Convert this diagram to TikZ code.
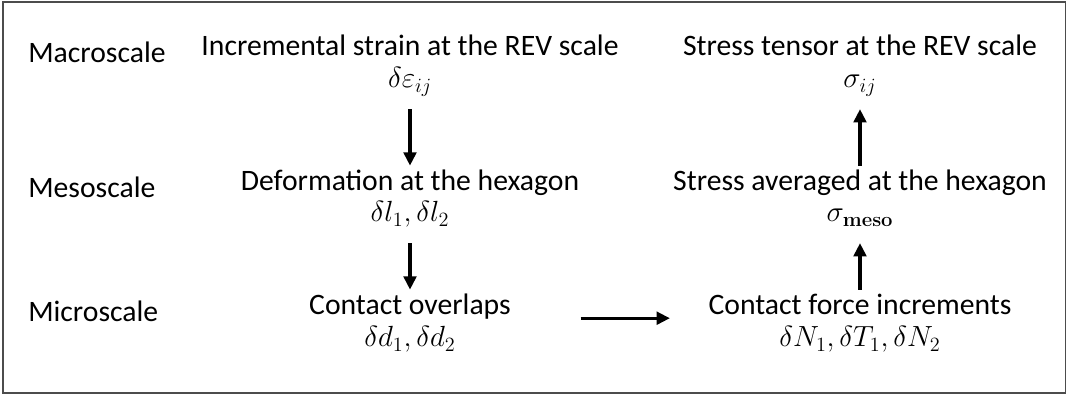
\documentclass[tikz,border=0pt]{standalone}
\usepackage[no-math]{fontspec}
\setmainfont{Carlito}
\usepackage{amsmath}
\usetikzlibrary{arrows.meta}

\begin{document}
\begin{tikzpicture}[x=0.025cm, y=-0.025cm,
  level/.style={anchor=west, inner sep=0pt, font=\fontsize{21.1}{25}\selectfont},
  txt/.style={inner sep=0pt, text height=0.7em, text depth=0.25em, font=\fontsize{21.1}{25}\selectfont},
  var/.style={inner sep=0pt, text height=0.7em, text depth=0.3em, font=\fontsize{21.5}{26}\selectfont},
  arr/.style={-{Triangle[length=9.5pt, width=9pt]}, line width=2.3pt, shorten <=0.42cm, shorten >=0.36cm},
  frame/.style={draw=black!70, line width=1.2pt}
]
  \useasboundingbox (0,0) rectangle (1068,396);
  \draw[frame] (3,2) rectangle (1065.5,393);

  % scale labels
  \node[level] (macro) at (28,52) {Macroscale};
  \node[level] (meso) at (28,187) {Mesoscale};
  \node[level] (micro) at (28,311) {Microscale};

  % kinematic side
  \node[txt] (strain) at (410,52) {Incremental strain at the REV scale};
  \node[var] (strainvar) at (410,85) {$\delta\varepsilon_{ij}$};
  \node[txt] (deform) at (410,187) {Deformation at the hexagon};
  \node[var] (deformvar) at (410,219) {$\delta l_1, \delta l_2$};
  \node[txt] (overlaps) at (410,311) {Contact overlaps};
  \node[var] (overlapsvar) at (410,344) {$\delta d_1, \delta d_2$};

  % static side
  \node[txt] (stress) at (860,52) {Stress tensor at the REV scale};
  \node[var] (stressvar) at (860,85) {$\sigma_{ij}$};
  \node[txt] (stressmeso) at (860,187) {Stress averaged at the hexagon};
  \node[var] (stressmesovar) at (860,219) {$\sigma_{\mathbf{meso}}$};
  \node[txt] (forces) at (860,311) {Contact force increments};
  \node[var] (forcesvar) at (860,344) {$\delta N_1, \delta T_1, \delta N_2$};

  \draw[arr] (strainvar) -- (deform);
  \draw[arr] (deformvar) -- (overlaps);
  \draw[arr, shorten <=1.74cm, shorten >=0.96cm] ([yshift=-0.18cm]overlaps.east) -- ([yshift=-0.18cm]forces.west);
  \draw[arr, shorten <=0.36cm, shorten >=0.42cm] (forces) -- (stressmesovar);
  \draw[arr, shorten <=0.36cm, shorten >=0.42cm] (stressmeso) -- (stressvar);
\end{tikzpicture}
\end{document}
